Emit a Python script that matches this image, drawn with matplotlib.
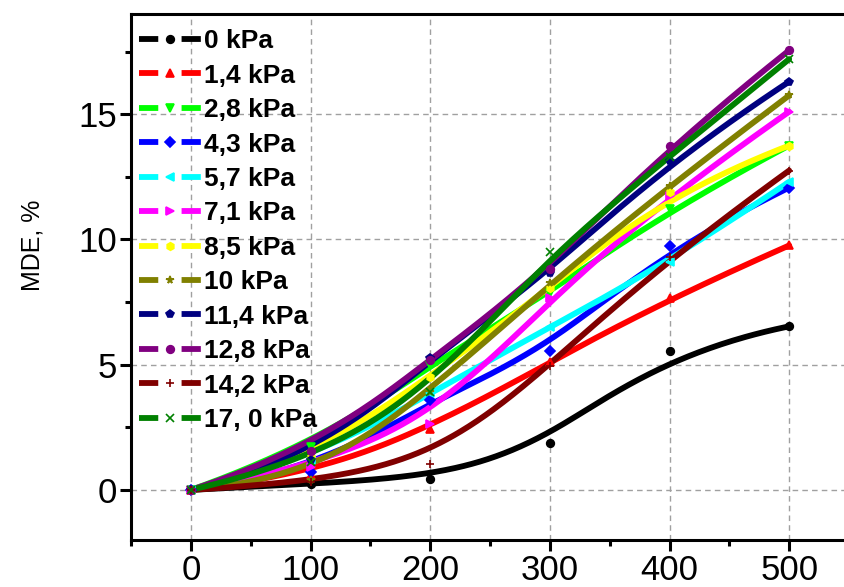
import numpy as np
import matplotlib
matplotlib.use('Agg')
import matplotlib.pyplot as plt
from matplotlib.lines import Line2D
from matplotlib.ticker import MultipleLocator

# Data (pressure in kPa, MDE in %)
x = [0, 100, 200, 300, 400, 500]

labels = ['0 kPa', '1,4 kPa', '2,8 kPa', '4,3 kPa', '5,7 kPa', '7,1 kPa',
          '8,5 kPa', '10 kPa', '11,4 kPa', '12,8 kPa', '14,2 kPa', '17, 0 kPa']

mde_0 = [0, 0.25, 0.43, 1.87, 5.55, 6.53]
mde_1_4 = [0, 0.6, 2.45, 5.1, 7.65, 9.76]
mde_2_8 = [0, 1.7, 5.0, 7.85, 11.2, 13.75]
mde_4_3 = [0, 0.7, 3.6, 5.55, 9.72, 12.07]
mde_5_7 = [0, 1.2, 3.85, 6.5, 9.1, 12.3]
mde_7_1 = [0, 0.9, 2.65, 7.65, 11.75, 15.1]
mde_8_5 = [0, 1.3, 4.5, 8.05, 11.9, 13.75]
mde_10 = [0, 0.4, 3.9, 8.25, 12.15, 15.75]
mde_11_4 = [0, 1.2, 5.25, 8.65, 13.15, 16.3]
mde_12_8 = [0, 1.55, 5.2, 8.8, 13.75, 17.55]
mde_14_2 = [0, 0.3, 1.05, 4.95, 9.3, 12.75]
mde_17_0 = [0, 1.1, 3.9, 9.5, 13.3, 17.2]

series = [mde_0, mde_1_4, mde_2_8, mde_4_3, mde_5_7, mde_7_1,
          mde_8_5, mde_10, mde_11_4, mde_12_8, mde_14_2, mde_17_0]

colors = ['#000000', '#FF0000', '#00FF00', '#0000FF', '#00FFFF', '#FF00FF',
          '#FFFF00', '#808000', '#000080', '#800080', '#800000', '#008000']
markers = ['o', '^', 'v', 'D', '<', '>', 'h', '*', 'p', 'o', '+', 'x']


def basis(i, k, t, knots):
    # Cox-de Boor recursion
    if k == 0:
        return np.where((knots[i] <= t) & (t < knots[i + 1]), 1.0, 0.0)
    out = np.zeros_like(t)
    d1 = knots[i + k] - knots[i]
    d2 = knots[i + k + 1] - knots[i + 1]
    if d1 > 0:
        out += (t - knots[i]) / d1 * basis(i, k - 1, t, knots)
    if d2 > 0:
        out += (knots[i + k + 1] - t) / d2 * basis(i + 1, k - 1, t, knots)
    return out


def bspline(xs, ys, k=3, num=300):
    # clamped cubic B-spline with the data points as control points
    n = len(xs)
    knots = np.concatenate([np.zeros(k), np.linspace(0, 1, n - k + 1), np.ones(k)])
    t = np.linspace(0, 1, num)
    t[-1] -= 1e-9
    bx = np.zeros(num)
    by = np.zeros(num)
    for i in range(n):
        b = basis(i, k, t, knots)
        bx += b * xs[i]
        by += b * ys[i]
    return bx, by


plt.rcParams['font.family'] = ['Liberation Sans', 'DejaVu Sans']

fig = plt.figure(figsize=(8.45, 5.87), dpi=100)
ax = fig.add_axes([131 / 845, 47 / 587, 718 / 845, 526 / 587])

lw = 4.2
for ys, c, m in zip(series, colors, markers):
    sx, sy = bspline(x, ys)
    ax.plot(sx, sy, color=c, lw=lw, solid_capstyle='round', zorder=3)
for ys, c, m in zip(series, colors, markers):
    ax.plot(x, ys, linestyle='none', marker=m, color=c, ms=5.5, mew=1.2, zorder=4)

ax.set_xlim(-50, 550)
ax.set_ylim(-2, 19)
ax.xaxis.set_major_locator(MultipleLocator(100))
ax.xaxis.set_minor_locator(MultipleLocator(50))
ax.yaxis.set_major_locator(MultipleLocator(5))
ax.yaxis.set_minor_locator(MultipleLocator(2.5))

ax.grid(True, which='major', color='#a0a0a0', linestyle=(0, (4, 3)), lw=1.0, zorder=0)
for s in ax.spines.values():
    s.set_linewidth(2.2)

ax.tick_params(which='major', direction='out', length=8, width=2.2,
               labelsize=25, pad=2)
ax.tick_params(which='minor', direction='out', length=4.5, width=2.2)

ax.set_ylabel('MDE, %', fontsize=18)
ax.yaxis.set_label_coords(-0.12, 0.561)

handles = [Line2D([], [], color=c, lw=lw, marker=m, ms=5.5, mew=1.2,
                  linestyle=(0, (3.3, 4.0)), dash_capstyle='butt')
           for c, m in zip(colors, markers)]
leg = ax.legend(handles, labels, loc='upper left', bbox_to_anchor=(0.0, 0.987),
                frameon=False, numpoints=1, handlelength=2.32, handletextpad=0.12,
                labelspacing=0.395, borderaxespad=0.15, borderpad=0.17,
                prop={'weight': 'bold', 'size': 19})
leg.set_zorder(5)

fig.savefig('out.png', dpi=100)
